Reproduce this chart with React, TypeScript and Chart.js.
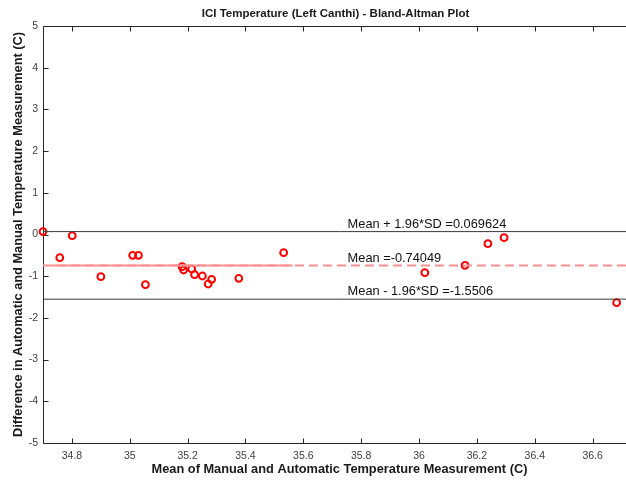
import { useEffect, useRef } from "react";
import { Chart, registerables } from "chart.js";

Chart.register(...registerables);

// Data
const meanValues = [
  34.7, 34.758, 34.801, 34.9, 35.01, 35.03, 35.054, 35.181, 35.186, 35.214, 35.224,
  35.251, 35.271, 35.283, 35.377, 35.532, 36.02, 36.159, 36.238, 36.294, 36.683,
];
const diffValues = [
  0.07, -0.556, -0.029, -1.012, -0.499, -0.499, -1.204, -0.772, -0.851, -0.827, -0.963,
  -0.995, -1.187, -1.075, -1.051, -0.436, -0.915, -0.739, -0.22, -0.077, -1.635,
];
const meanDiff = -0.74049;
const upperLoA = 0.069624;
const lowerLoA = -1.5506;
const xRange = [34.7, 36.75];
const yRange = [-5, 5];
const meanSolidRange = [34.7275, 35.563];
const labelX = 35.753;
const xTicks = [34.8, 35, 35.2, 35.4, 35.6, 35.8, 36, 36.2, 36.4, 36.6];
const yTicks = [-5, -4, -3, -2, -1, 0, 1, 2, 3, 4, 5];
const titleText = "ICI Temperature (Left Canthi) - Bland-Altman Plot";
const xTitle = "Mean of Manual and Automatic Temperature Measurement (C)";
const yTitle = "Difference in Automatic and Manual Temperature Measurement (C)";
const upperLabel = "Mean + 1.96*SD =0.069624";
const meanLabel = "Mean =-0.74049";
const lowerLabel = "Mean - 1.96*SD =-1.5506";

const FONT = '"Liberation Sans", Arial, sans-serif';
const AXIS_COLOR = "#262626";

const framePlugin = {
  id: "matlabFrame",
  beforeDatasetsDraw(chart: any) {
    const { ctx, chartArea } = chart;
    const xs = chart.scales.x;
    const ys = chart.scales.y;
    ctx.save();
    ctx.strokeStyle = AXIS_COLOR;
    ctx.lineWidth = 1;
    ctx.beginPath();
    const l = Math.round(chartArea.left) + 0.5;
    const r = Math.round(chartArea.right) + 0.5;
    const t = Math.round(chartArea.top) + 0.5;
    const b = Math.round(chartArea.bottom) + 0.5;
    ctx.moveTo(l, t);
    ctx.lineTo(r, t);
    ctx.moveTo(l, t);
    ctx.lineTo(l, b);
    ctx.lineTo(r, b);
    ctx.lineTo(r, t);
    for (const v of xTicks) {
      const px = Math.round(xs.getPixelForValue(v)) + 0.5;
      ctx.moveTo(px, b);
      ctx.lineTo(px, b - 5);
      ctx.moveTo(px, t);
      ctx.lineTo(px, t + 5);
    }
    for (const v of yTicks) {
      const py = Math.round(ys.getPixelForValue(v)) + 0.5;
      ctx.moveTo(l, py);
      ctx.lineTo(l + 5, py);
      ctx.moveTo(r, py);
      ctx.lineTo(r - 5, py);
    }
    ctx.stroke();
    ctx.restore();
  },
  afterDraw(chart: any) {
    const { ctx, chartArea } = chart;
    const xs = chart.scales.x;
    const ys = chart.scales.y;
    ctx.save();
    // line labels
    ctx.fillStyle = "#111";
    ctx.font = `12.8px ${FONT}`;
    ctx.textAlign = "left";
    ctx.textBaseline = "middle";
    const lx = xs.getPixelForValue(labelX);
    ctx.fillText(upperLabel, lx, ys.getPixelForValue(upperLoA) - 7.5);
    ctx.fillText(meanLabel, lx, ys.getPixelForValue(meanDiff) - 7);
    ctx.fillText(lowerLabel, lx, ys.getPixelForValue(lowerLoA) - 7.5);
    // titles
    const cx = (chartArea.left + chartArea.right) / 2;
    const cy = (chartArea.top + chartArea.bottom) / 2;
    ctx.fillStyle = "#1a1a1a";
    ctx.textAlign = "center";
    ctx.font = `bold 11.5px ${FONT}`;
    ctx.fillText(titleText, cx - 4, 14);
    ctx.font = `bold 12.8px ${FONT}`;
    ctx.fillText(xTitle, cx, 469);
    ctx.save();
    ctx.translate(18, cy);
    ctx.rotate(-Math.PI / 2);
    ctx.fillText(yTitle, 0, 0);
    ctx.restore();
    ctx.restore();
  },
};

export default function App() {
  const ref = useRef<HTMLCanvasElement | null>(null);
  useEffect(() => {
    if (!ref.current) return;
    const points = meanValues.map((x, i) => ({ x, y: diffValues[i] }));
    const hline = (y: number, x0 = xRange[0], x1 = xRange[1]) => [
      { x: x0, y },
      { x: x1, y },
    ];
    const chart = new Chart(ref.current, {
      type: "scatter",
      data: {
        datasets: [
          {
            data: hline(upperLoA),
            showLine: true,
            borderColor: "#3a3a3a",
            borderWidth: 1,
            pointRadius: 0,
          },
          {
            data: hline(lowerLoA),
            showLine: true,
            borderColor: "#3a3a3a",
            borderWidth: 1,
            pointRadius: 0,
          },
          {
            data: hline(meanDiff),
            showLine: true,
            borderColor: "#ff9090",
            borderWidth: 2,
            borderDash: [9, 5],
            pointRadius: 0,
          },
          {
            data: hline(meanDiff, meanSolidRange[0], meanSolidRange[1]),
            showLine: true,
            borderColor: "#ff9090",
            borderWidth: 2,
            pointRadius: 0,
          },
          {
            data: points,
            showLine: false,
            pointRadius: 3.4,
            pointBorderWidth: 2,
            pointBorderColor: "#ff0000",
            pointBackgroundColor: "rgba(255,255,255,0)",
            clip: false as any,
          },
        ],
      },
      options: {
        animation: false,
        responsive: false,
        devicePixelRatio: 1,
        layout: { padding: { top: 26, right: 24, left: 0, bottom: 0 } },
        plugins: {
          legend: { display: false },
          tooltip: { enabled: false },
          title: { display: false },
        },
        scales: {
          x: {
            type: "linear",
            min: xRange[0],
            max: xRange[1],
            afterBuildTicks: (s: any) => {
              s.ticks = xTicks.map((v) => ({ value: v }));
            },
            afterFit: (s: any) => {
              s.height = 40;
            },
            grid: { display: false, drawTicks: false },
            border: { display: false },
            ticks: {
              padding: 7,
              color: "#404040",
              font: { family: FONT, size: 10.5 },
              maxRotation: 0,
              autoSkip: false,
              callback: (v: any) => String(Number(v)),
            },
          },
          y: {
            type: "linear",
            min: yRange[0],
            max: yRange[1],
            afterBuildTicks: (s: any) => {
              s.ticks = yTicks.map((v) => ({ value: v }));
            },
            afterFit: (s: any) => {
              s.width = 43;
            },
            grid: { display: false, drawTicks: false },
            border: { display: false },
            ticks: {
              padding: 5,
              color: "#404040",
              font: { family: FONT, size: 10.5 },
              autoSkip: false,
              callback: (v: any) => String(Number(v)),
            },
          },
        },
      },
      plugins: [framePlugin],
    });
    return () => chart.destroy();
  }, []);
  return (
    <div
      style={{
        position: "absolute",
        left: 0,
        top: 0,
        width: 626,
        height: 483,
        overflow: "hidden",
        background: "#fff",
      }}
    >
      <canvas ref={ref} width={660} height={483} style={{ width: 660, height: 483 }} />
    </div>
  );
}
